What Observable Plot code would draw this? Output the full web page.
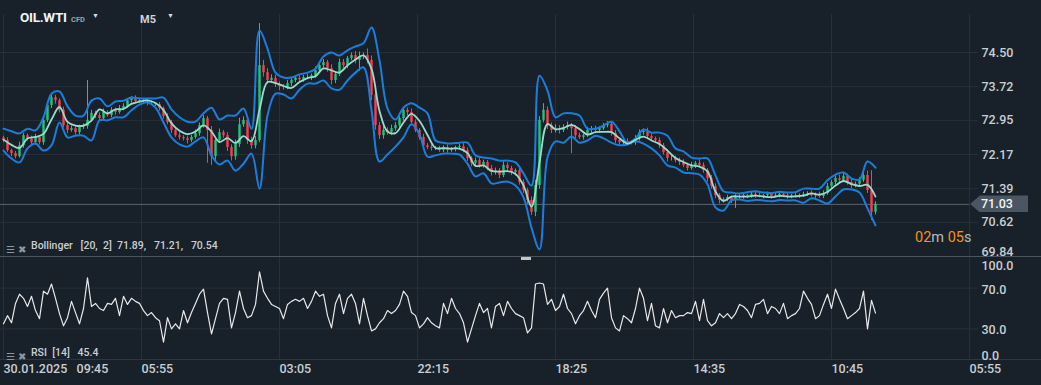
<!DOCTYPE html>
<html><head><meta charset="utf-8">
<script src="https://cdn.jsdelivr.net/npm/d3@7"></script>
<script src="https://cdn.jsdelivr.net/npm/@observablehq/plot@0.6"></script>
<style>
html,body{margin:0;padding:0;background:#18212a;}
#wrap{position:relative;width:1041px;height:385px;background:#18212a;overflow:hidden;font-family:Roboto,"Noto Sans",sans-serif;}
#wrap svg{position:absolute;left:0;}
#wrap svg text{white-space:pre;}
.abs{position:absolute;white-space:pre;line-height:1;}
</style></head><body><div id="wrap"></div>
<script>
// ---- data ----
const symbol = "OIL.WTI";
const timeframe = "M5";
const firstOpen = 72.55;
const closes = [
72.49,72.26,72.19,72.12,72.37,72.60,72.53,72.44,72.56,72.44,
72.95,73.29,73.47,73.40,73.18,72.83,72.72,72.76,72.67,72.79,
72.81,72.95,73.11,73.06,72.99,73.13,73.06,73.18,73.13,73.22,
73.27,73.40,73.45,73.38,73.40,73.38,73.33,73.33,73.31,73.22,
73.04,72.90,72.72,72.60,72.56,72.53,72.49,72.56,72.65,72.83,
72.99,72.72,72.12,72.49,72.67,72.60,72.33,72.12,72.40,72.85,
72.95,72.49,72.37,72.49,74.20,74.04,73.86,73.91,73.77,73.72,
73.70,73.79,73.86,73.91,73.88,73.93,73.93,73.97,74.09,74.20,
74.27,74.13,73.86,74.00,74.27,74.20,74.36,74.43,74.32,74.41,
74.43,74.32,73.52,72.83,72.60,72.72,72.67,72.76,72.83,72.99,
73.18,73.13,72.90,72.72,72.56,72.37,72.33,72.31,72.31,72.26,
72.33,72.26,72.28,72.33,72.35,72.26,72.08,71.97,72.03,71.92,
71.99,71.85,71.76,71.80,71.69,71.92,71.85,71.76,71.80,71.53,
71.35,71.12,70.85,71.46,72.95,73.18,72.83,72.72,72.76,72.72,
72.79,72.83,72.76,72.60,72.56,72.60,72.72,72.76,72.72,72.76,
72.83,72.86,72.65,72.49,72.44,72.47,72.44,72.44,72.53,72.67,
72.70,72.58,72.53,72.49,72.37,72.21,72.08,72.08,72.03,71.99,
71.92,71.85,71.92,71.97,71.92,71.80,71.62,71.44,71.23,71.12,
71.14,71.19,71.12,71.19,71.21,71.23,71.21,71.26,71.23,71.21,
71.23,71.26,71.21,71.23,71.26,71.23,71.21,71.23,71.21,71.23,
71.26,71.28,71.23,71.26,71.21,71.28,71.44,71.53,71.62,71.58,
71.67,71.53,71.46,71.49,71.58,71.69,71.35,70.85,71.03];
// wick length above / below the body, in cents
const upW = [
4,6,3,5,8,5,4,6,7,3, 9,8,6,5,4,7,5,6,4,5, 6,91,7,5,6,8,4,6,5,7, 6,5,4,6,3,5,4,6,3,5,
4,6,5,3,7,4,6,5,8,6, 7,5,9,6,8,5,7,6,10,15, 8,6,7,9,96,12,9,8,7,6, 5,7,6,4,6,5,7,4,8,6,
7,5,9,6,8,7,5,6,9,10, 6,15,10,8,7,9,6,8,7,6, 7,5,8,6,4,7,5,6,4,5, 4,6,5,3,5,7,6,4,6,5,
5,4,7,6,5,8,6,5,4,6, 6,5,8,12,9,15,8,6,9,7, 6,8,5,7,6,4,7,5,6,4, 5,6,4,7,5,4,6,5,7,6,
5,7,6,4,6,5,7,8,5,6, 6,5,7,4,8,6,5,7,6,5, 4,5,3,6,4,5,3,6,4,5, 3,5,4,6,3,4,5,3,6,4,
5,4,6,3,5,6,7,5,6,8, 6,5,7,5,6,8,10,45,6];
const dnW = [
5,4,7,5,3,6,5,4,6,5, 6,5,7,8,6,5,7,4,6,5, 5,6,4,7,5,6,4,5,6,4, 5,4,6,5,4,6,5,3,5,6,
6,5,7,4,6,5,8,5,4,6, 6,75,20,8,7,6,9,10,8,7, 6,9,8,7,5,10,8,6,7,9, 6,5,7,5,4,6,5,7,6,5,
6,8,10,7,5,6,7,5,8,25, 7,8,12,10,9,8,6,7,6,5, 6,8,7,5,6,7,5,6,5,4, 5,6,4,5,6,5,7,8,5,6,
6,5,8,6,7,5,6,7,8,6, 7,9,7,10,8,6,9,7,6,8, 5,6,57,7,5,6,4,7,5,6, 4,5,6,7,5,6,4,5,6,5,
6,5,4,7,6,5,8,6,5,7, 5,6,4,7,5,6,8,6,7,8, 6,5,7,18,4,6,5,4,6,3, 5,4,6,3,5,4,6,5,3,4,
4,5,3,6,4,5,4,6,5,7, 5,6,7,5,6,5,7,19,6];
// Bollinger bands, one value every 2nd candle
const upperBand = [
72.76,72.70,72.65,72.76,72.72,73.02,73.56,73.61,73.27,73.06,
73.06,73.40,73.45,73.27,73.38,73.40,73.47,73.45,73.45,73.45,
73.47,73.20,73.02,72.92,72.92,73.11,73.24,72.97,73.06,73.06,
73.22,72.76,75.00,74.59,74.04,73.93,73.93,74.00,74.04,74.13,
74.41,74.50,74.43,74.55,74.64,74.71,75.07,74.32,73.22,72.97,
73.24,73.34,73.24,73.11,72.49,72.44,72.42,72.44,72.44,72.15,
72.10,72.08,72.03,72.03,71.99,71.74,71.46,73.97,73.63,73.02,
73.11,73.11,73.06,72.76,72.76,72.83,72.92,72.70,72.44,72.54,
72.74,72.67,72.67,72.60,72.31,72.24,72.10,72.08,72.08,71.69,
71.33,71.30,71.28,71.31,71.33,71.30,71.29,71.32,71.30,71.31,
71.39,71.39,71.39,71.58,71.71,71.76,71.62,71.60,72.01,71.87];
const lowerBand = [
72.26,72.08,71.99,72.31,72.42,72.26,72.38,72.90,72.56,72.60,
72.60,72.49,72.95,72.95,73.02,73.02,73.18,73.31,73.36,73.24,
72.90,72.56,72.40,72.35,72.47,72.56,72.15,71.94,72.03,71.80,
71.96,72.19,71.39,73.06,73.56,73.54,73.45,73.65,73.79,73.79,
73.86,73.68,73.65,73.86,74.04,74.16,73.18,72.01,72.17,72.35,
72.56,72.86,72.63,72.12,72.15,72.19,72.19,72.17,71.96,71.67,
71.74,71.51,71.53,71.55,71.46,71.19,70.50,70.00,72.10,72.47,
72.44,72.58,72.44,72.49,72.60,72.54,72.44,72.38,72.40,72.47,
72.42,72.31,72.15,71.92,71.87,71.76,71.74,71.71,71.49,70.96,
70.89,71.12,71.14,71.11,71.13,71.12,71.10,71.13,71.12,71.12,
71.07,71.17,71.12,71.05,71.21,71.37,71.37,71.30,70.94,70.55];
const rsi = [
35,43,36,55,64,60,52,62,48,40, 67,64,74,60,45,33,41,57,46,35,
50,80,52,55,50,48,55,54,60,43, 62,54,60,57,55,48,43,46,41,38,
17,41,30,35,30,48,36,46,55,64, 69,46,25,40,55,60,59,31,46,67,
50,41,43,54,86,67,60,54,52,50, 40,54,57,59,57,60,50,57,67,62,
64,43,31,55,64,45,60,64,55,35, 60,43,28,30,36,40,48,45,48,54,
67,62,46,43,31,35,41,36,33,31, 55,45,60,50,45,36,17,30,43,55,
46,50,31,52,55,43,57,50,45,43, 41,26,31,74,75,74,54,59,48,52,
64,50,45,35,43,48,57,48,41,59, 65,70,41,31,28,43,40,36,50,70,
60,38,55,33,31,50,36,48,41,43, 43,46,45,57,38,59,38,33,36,45,
41,45,40,45,54,52,48,41,54,55, 59,45,52,50,45,55,40,43,45,50,
67,60,54,40,43,54,64,50,69,59, 50,40,43,46,50,67,30,58,45.4];
const priceTicks = [74.50, 73.72, 72.95, 72.17, 71.39, 70.62, 69.84];
const rsiTicks = [100, 70, 30, 0];
const timeLabels = ["30.01.2025   09:45", "05:55", "03:05", "22:15", "18:25", "14:35", "10:45", "05:55"];
const lastPrice = 71.03;
const bollText = "Bollinger   [20,  2]  71.89,   71.21,   70.54";
const rsiText = "RSI  [14]   45.4";
const countdown = [["02","o"],["m ","g"],["05","o"],["s","g"]];

// ---- styles ----
const GRID = "#25303a", TXT = "#c9ced3";
const UP = "#24c47c", DN = "#ff3d52", BAND = "#1a7fdc", MID = "#98dccb";

const N = closes.length;
const gridStep = 34.5;               // candles between time grid lines
const axisIdx = gridStep * 7;        // right price axis line
const gridIdx = timeLabels.map((t, k) => k * gridStep);
const candles = closes.map((c, i) => {
  const o = i ? closes[i - 1] : firstOpen;
  return {i, o, c, h: Math.max(o, c) + upW[i] / 100, l: Math.min(o, c) - dnW[i] / 100, up: c >= o};
});
const bands = upperBand.map((u, k) => ({i: k * 2, u, l: lowerBand[k], m: (u + lowerBand[k]) / 2}));
const xOpt = {domain: [0, N - 1], range: [3, 875], axis: null};
const font = {fontFamily: "Roboto, 'Noto Sans', sans-serif"};

const main = Plot.plot({
  width: 1041, height: 257, margin: 0,
  style: {background: "transparent", overflow: "visible", ...font},
  x: xOpt,
  y: {domain: [69.84, 74.50], range: [256, 52], axis: null},
  marks: [
    Plot.ruleY(priceTicks.slice(0, -1), {x1: -1, x2: axisIdx + 2.25, stroke: GRID, strokeWidth: 1}),
    Plot.ruleX(gridIdx, {y1: 75.37, y2: 69.84, stroke: GRID, strokeWidth: 1}),
    Plot.ruleY([lastPrice], {x1: -1, x2: axisIdx, stroke: "#5a646d", strokeWidth: 1}),
    Plot.ruleX(candles, {x: "i", y1: "l", y2: "h", stroke: d => d.up ? UP : DN, strokeWidth: 1}),
    Plot.ruleX(candles, {x: "i", y1: "o", y2: "c", stroke: d => d.up ? UP : DN, strokeWidth: 2.4}),
    Plot.line(bands, {x: "i", y: "u", stroke: BAND, strokeWidth: 2, curve: "catmull-rom"}),
    Plot.line(bands, {x: "i", y: "l", stroke: BAND, strokeWidth: 2, curve: "catmull-rom"}),
    Plot.line(bands, {x: "i", y: "m", stroke: MID, strokeWidth: 1.8, curve: "catmull-rom"}),
    Plot.text(priceTicks.slice(0, -1), {x: axisIdx + 3, y: d => d, text: d => d.toFixed(2), textAnchor: "start", fill: TXT, fontSize: 12.5, fontWeight: 500}),
    Plot.text(priceTicks.slice(-1), {x: axisIdx + 3, y: d => d, dy: -5, text: d => d.toFixed(2), textAnchor: "start", fill: TXT, fontSize: 12.5, fontWeight: 500})
  ]
});
main.style.top = "0px";

const sub = Plot.plot({
  width: 1041, height: 128, margin: 0,
  style: {background: "transparent", overflow: "visible", ...font},
  x: xOpt,
  y: {domain: [0, 100], range: [102, 0], axis: null},
  marks: [
    Plot.ruleY([70, 30], {x1: -1, x2: axisIdx + 2.25, stroke: GRID, strokeWidth: 1}),
    Plot.ruleY([0], {x1: -1, x2: 260, stroke: "#2c3741", strokeWidth: 1}),
    Plot.ruleX(gridIdx, {y1: 100, y2: 0, stroke: GRID, strokeWidth: 1}),
    Plot.line(rsi, {x: (d, i) => i, y: d => d, stroke: "#e8e8e8", strokeWidth: 1.2}),
    Plot.text(rsiTicks, {x: axisIdx + 3, y: d => d, text: d => d.toFixed(1), textAnchor: "start", fill: TXT, fontSize: 12.5, fontWeight: 500}),
    Plot.text(timeLabels, {x: (d, k) => k * gridStep, y: 0, dy: 9.5, text: d => d, textAnchor: "start", fill: TXT, fontSize: 12.5, fontWeight: 500})
  ]
});
sub.style.top = "257px";

const wrap = document.getElementById("wrap");
wrap.appendChild(main);
wrap.appendChild(sub);

// nudge the RSI tick labels like the reference (top and bottom kept inside the panel)
const rsiDy = {"100.0": 8, "70.0": 2, "30.0": 1, "0.0": -4};
sub.querySelectorAll("text").forEach(t => { if (rsiDy[t.textContent] !== undefined) t.setAttribute("transform", (t.getAttribute("transform") || "") + ` translate(0,${rsiDy[t.textContent]})`); });

function addDiv(html, css) { const d = document.createElement("div"); d.className = "abs"; d.innerHTML = html; Object.assign(d.style, css); wrap.appendChild(d); return d; }

// separator and scroll handle
addDiv("", {left: "0px", top: "256px", width: "1041px", height: "1px", background: "#4b555e"});
addDiv("", {left: "521px", top: "257px", width: "10px", height: "3px", background: "#c4c7ca"});

// current price tag
const py = main.scale("y").apply(lastPrice);
addDiv(lastPrice.toFixed(2), {left: "970px", top: (py - 8.5) + "px", width: "58px", height: "17px", background: "#4a5661",
  clipPath: "polygon(0 50%, 10px 0, 100% 0, 100% 100%, 10px 100%)", color: "#f2f4f6", fontSize: "12.5px", fontWeight: "500",
  paddingLeft: "11px", boxSizing: "border-box", lineHeight: "17px"});

// countdown
addDiv(countdown.map(([s, c]) => `<span style="color:${c === "o" ? "#f0951c" : "#b4bbc2"}">${s}</span>`).join(""),
  {left: "915px", top: "231px", fontSize: "14.5px"});

// header
addDiv(symbol, {left: "20px", top: "11px", fontSize: "13.5px", color: "#f2f4f6", fontWeight: "700", letterSpacing: "-0.3px"});
addDiv("CFD", {left: "71px", top: "16px", fontSize: "7.5px", color: "#9aa3ab", fontWeight: "700"});
addDiv("▼", {left: "92px", top: "13px", fontSize: "7px", color: "#d6dade"});
addDiv(timeframe, {left: "140px", top: "14px", fontSize: "11px", color: "#cfd3d7", fontWeight: "700"});
addDiv("▼", {left: "167px", top: "13px", fontSize: "7px", color: "#d6dade"});

// indicator labels
const icons = `<span style="color:#8d969e;font-size:10px">☰</span><span style="color:#8d969e;font-size:10px;margin-left:3px">✖</span>`;
addDiv(icons, {left: "6px", top: "240px"});
addDiv(bollText, {left: "31px", top: "241px", fontSize: "10.5px", color: TXT, fontWeight: "500"});
addDiv(icons, {left: "6px", top: "347px"});
addDiv(rsiText, {left: "31px", top: "348px", fontSize: "10.5px", color: TXT, fontWeight: "500"});
</script>
</body></html>
